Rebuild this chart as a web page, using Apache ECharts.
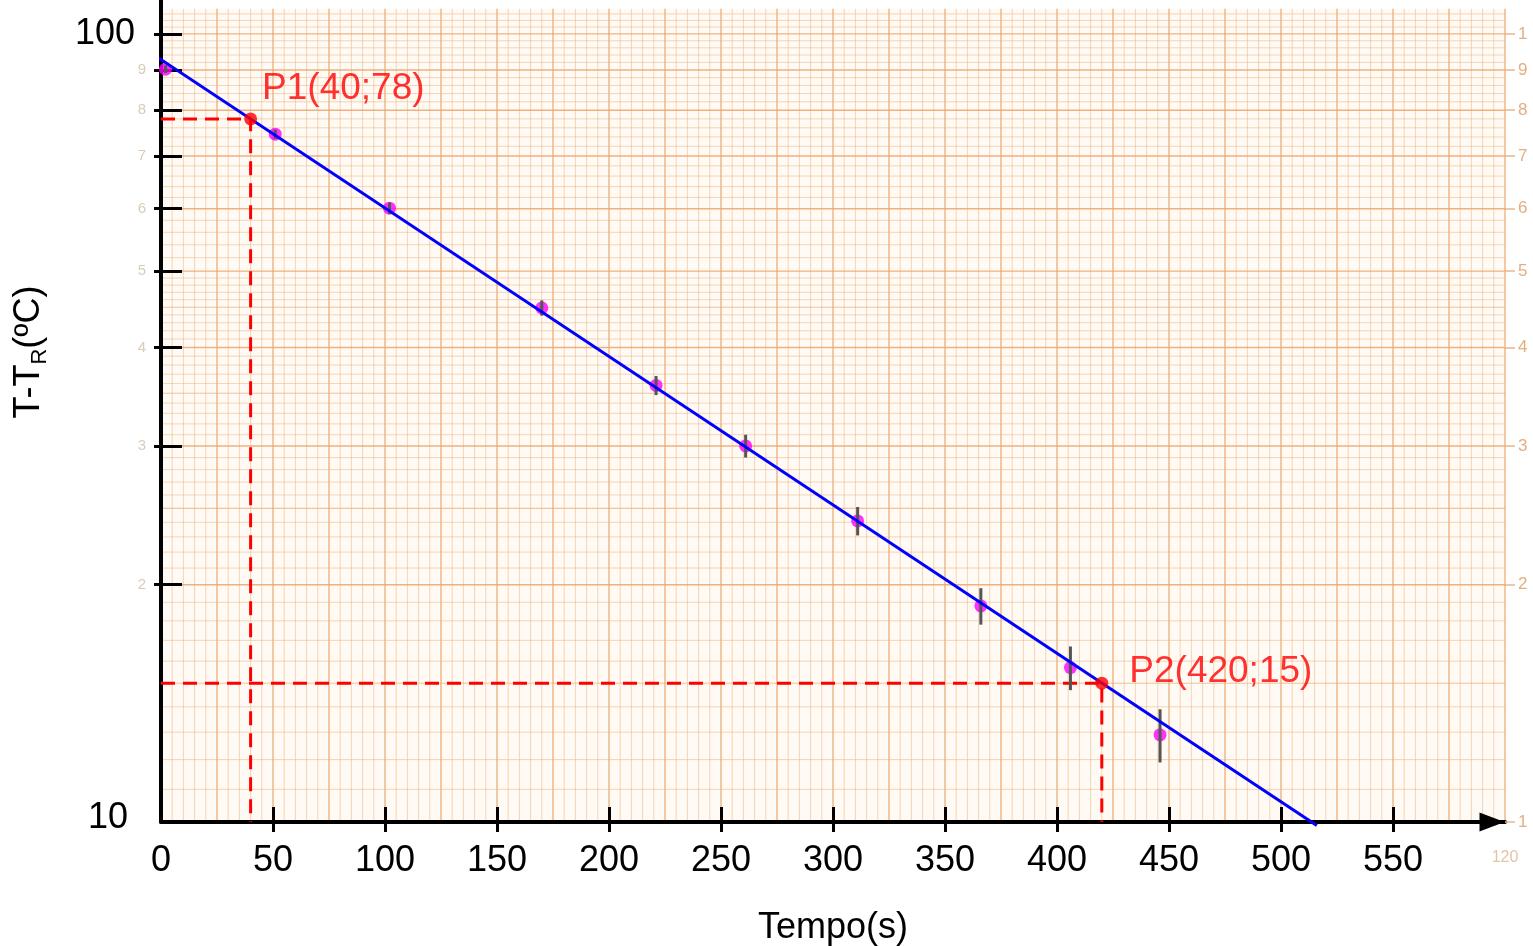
<!DOCTYPE html>
<html>
<head>
<meta charset="utf-8">
<script src="https://cdn.jsdelivr.net/npm/echarts@6/dist/echarts.min.js"></script>
<style>
  html, body { margin: 0; background: #ffffff; }
  #chart { width: 1533px; height: 946px; }
</style>
</head>
<body>
<div id="chart"></div>
<script>
// medidas
const tempo = [2, 51, 102, 170, 221, 261, 311, 366, 406, 446]
const deltaT = [90.2, 74.6, 60.1, 44.9, 35.8, 30.0, 24.1, 18.8, 15.7, 12.9]
const erroT = [1, 1, 1, 1, 1, 1, 1, 1, 1, 1]

// reta ajustada (extremos)
const retaX = [-5, 516]
const retaY = [94.8, 9.9]

// pontos escolhidos na reta
const pontoNomes = ['P1(40;78)', 'P2(420;15)']
const pontoX = [40, 420]
const pontoY = [78, 15]
const pontoLabelOffset = [[0, -30], [16, -11]]

const xLabels = [0, 50, 100, 150, 200, 250, 300, 350, 400, 450, 500, 550]
const xTicks = [50, 100, 150, 200, 250, 300, 350, 400, 450, 500, 550]
const yLabels = [10, 100]
const yTicks = [20, 30, 40, 50, 60, 70, 80, 90, 100]
const paperLabels = [20, 30, 40, 50, 60, 70, 80, 90]
const paperRightLabels = [10, 20, 30, 40, 50, 60, 70, 80, 90, 100]

// papel semi-log: 120 mm na horizontal, 1 decada na vertical
const paperTop = 107.6
const paperRight = 600
const paperX = []
for (let k = 0; k <= 120; k++) paperX.push([k * 5, 10, 0, k % 5 === 0 ? 2 : 0])
const paperY = []
for (let v = 10; v < 50; v += 1) paperY.push([0, v, 1, v % 10 === 0 ? 2 : (v % 5 === 0 ? 1 : 0)])
for (let v = 50; v <= 106; v += 2) paperY.push([0, v, 1, v % 10 === 0 ? 2 : 0])

const FONT = 'Liberation Sans, Arial, sans-serif'
const lineColors = ['rgba(232,178,130,0.5)', 'rgba(232,168,112,0.65)', 'rgba(234,160,100,0.8)']
const lineWidths = [1, 1.1, 1.4]

const chart = echarts.init(document.getElementById('chart'))

const option = {
  animation: false,
  backgroundColor: '#ffffff',
  grid: { left: 161, right: 28, top: 0, bottom: 124, outerBoundsMode: 'none' },
  xAxis: [
    {
      type: 'value', min: 0, max: 600, interval: 50, position: 'bottom', z: 5,
      axisLine: { show: true, symbol: ['none', 'triangle'], symbolSize: [19, 25], symbolOffset: [0, -13],
        lineStyle: { color: '#000', width: 4 } },
      axisTick: { show: true, inside: true, length: 15, customValues: xTicks, lineStyle: { color: '#000', width: 3 } },
      axisLabel: { customValues: xLabels, margin: 21, color: '#000', fontSize: 36, fontFamily: FONT },
      splitLine: { show: false },
      name: 'Tempo(s)', nameLocation: 'middle', nameGap: 88,
      nameTextStyle: { color: '#000', fontSize: 36, fontFamily: FONT }
    },
    {
      type: 'value', min: 0, max: 600, interval: 50, position: 'bottom', z: 5,
      axisLine: { show: false },
      axisTick: { show: true, inside: false, length: 10, customValues: xTicks, lineStyle: { color: '#000', width: 3 } },
      axisLabel: { customValues: [600], formatter: () => '120', margin: 28, color: '#e2c4a6', fontSize: 16, fontFamily: FONT },
      splitLine: { show: false }
    }
  ],
  yAxis: [
    {
      type: 'log', logBase: 10, min: 10, max: 110.4, position: 'left', z: 5,
      axisLine: { show: true, lineStyle: { color: '#000', width: 4 } },
      axisTick: { show: true, inside: true, length: 21, customValues: yTicks, lineStyle: { color: '#000', width: 3 } },
      axisLabel: {
        customValues: yLabels, margin: 26, color: '#000', fontSize: 36, fontFamily: FONT,
        formatter: v => (v === 10 ? '{b|10}' : '{a|100}'),
        rich: {
          a: { fontSize: 36, fontFamily: FONT, color: '#000' },
          b: { fontSize: 36, fontFamily: FONT, color: '#000', padding: [0, 7, 8, 0] }
        }
      },
      splitLine: { show: false }
    },
    {
      type: 'log', logBase: 10, min: 10, max: 110.4, position: 'left', z: 5,
      axisLine: { show: false },
      axisTick: { show: true, inside: false, length: 7, customValues: yTicks, lineStyle: { color: '#000', width: 3 } },
      axisLabel: { customValues: paperLabels, margin: 15, color: '#d9ccb6', fontSize: 15, fontFamily: FONT,
        formatter: v => String(v / 10) },
      splitLine: { show: false }
    },
    {
      type: 'log', logBase: 10, min: 10, max: 110.4, position: 'right', z: 5,
      axisLine: { show: false },
      axisTick: { show: true, inside: false, length: 10, customValues: paperRightLabels,
        lineStyle: { color: '#eab68a', width: 1.5 } },
      axisLabel: { customValues: paperRightLabels, margin: 13, color: '#e3ae82', fontSize: 17, fontFamily: FONT,
        formatter: v => (v === 100 ? '1' : String(v / 10)) },
      splitLine: { show: false }
    }
  ],
  graphic: [
    {
      type: 'text', x: 29, y: 352, rotation: Math.PI / 2, z: 10,
      style: {
        text: '{m|T-T}{s|R}{m|(ºC)}',
        align: 'center', verticalAlign: 'middle',
        rich: {
          m: { fontSize: 36, fontFamily: FONT, fill: '#000' },
          s: { fontSize: 22, fontFamily: FONT, fill: '#000', padding: [22, 0, 0, 0] }
        }
      }
    }
  ],
  series: [
    {
      type: 'custom', name: 'papel', z: 1, silent: true,
      data: [[0, 10]],
      renderItem: (params, api) => {
        const a = api.coord([0, paperTop])
        const b = api.coord([paperRight, 10])
        return { type: 'rect', shape: { x: a[0], y: a[1], width: b[0] - a[0], height: b[1] - a[1] },
          style: { fill: '#fffaf3' } }
      }
    },
    {
      type: 'custom', name: 'grade', z: 2, silent: true,
      data: paperX.concat(paperY),
      renderItem: (params, api) => {
        const dir = api.value(2)
        const w = api.value(3)
        let a, b
        if (dir === 0) {
          a = api.coord([api.value(0), 10]); b = api.coord([api.value(0), paperTop])
        } else {
          a = api.coord([0, api.value(1)]); b = api.coord([paperRight, api.value(1)])
        }
        return { type: 'line', shape: { x1: a[0], y1: a[1], x2: b[0], y2: b[1] },
          style: { stroke: lineColors[w], lineWidth: lineWidths[w] } }
      }
    },
    ...pontoX.map((px, i) => ({
      type: 'line', z: 6, silent: true, symbol: 'none', clip: false,
      data: [[0, pontoY[i]], [px, pontoY[i]], [px, 10]],
      lineStyle: { color: '#ff0000', width: 3, type: [14, 8] }
    })),
    {
      type: 'scatter', name: 'medidas', z: 7, symbolSize: 13,
      itemStyle: { color: '#ff00ff' },
      data: tempo.map((t, i) => [t, deltaT[i]])
    },
    {
      type: 'custom', name: 'erro', z: 8, silent: true,
      data: tempo.map((t, i) => [t, deltaT[i], erroT[i]]),
      renderItem: (params, api) => {
        const x = api.value(0), y = api.value(1), e = api.value(2)
        const a = api.coord([x, y - e])
        const b = api.coord([x, y + e])
        return { type: 'line', shape: { x1: a[0], y1: a[1], x2: b[0], y2: b[1] },
          style: { stroke: '#555555', lineWidth: 3 } }
      }
    },
    {
      type: 'line', name: 'reta', z: 9, symbol: 'none', clip: false, silent: true,
      data: retaX.map((x, i) => [x, retaY[i]]),
      lineStyle: { color: '#0000ff', width: 3 }
    },
    ...pontoX.map((px, i) => ({
      type: 'scatter', name: pontoNomes[i], z: 10, symbolSize: 13,
      itemStyle: { color: '#ff0000' },
      data: [[px, pontoY[i]]],
      label: {
        show: true, position: 'right', offset: pontoLabelOffset[i],
        color: '#ff0000', fontSize: 37, fontFamily: FONT,
        formatter: () => pontoNomes[i]
      }
    }))
  ]
}

chart.setOption(option)
</script>
</body>
</html>
